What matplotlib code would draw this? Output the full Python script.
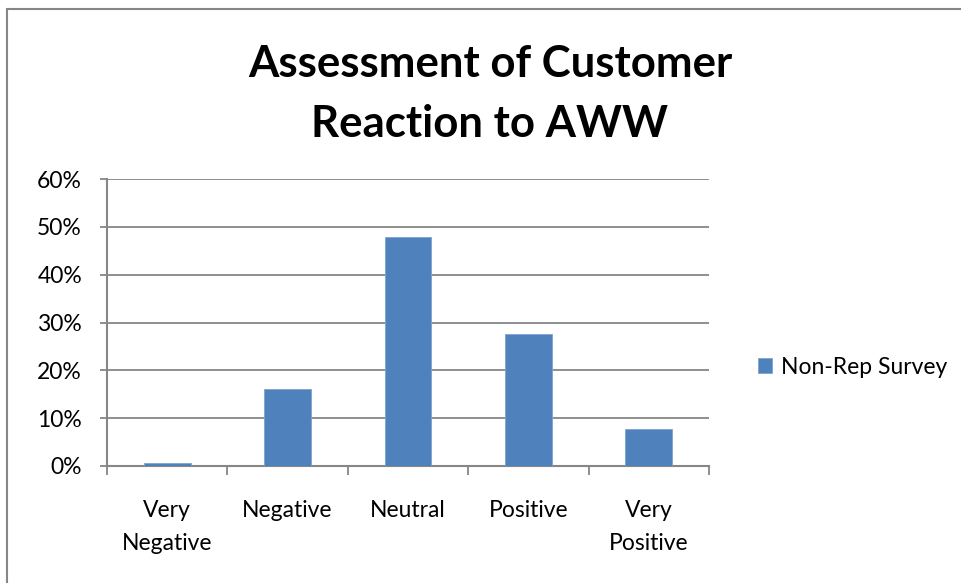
import matplotlib
matplotlib.use("Agg")
import matplotlib.pyplot as plt
from matplotlib.patches import Rectangle
from matplotlib.ticker import FixedLocator, NullFormatter

categories = ["Very\nNegative", "Negative", "Neutral", "Positive", "Very\nPositive"]
values = [0.6, 16.1, 47.8, 27.5, 7.7]
series_name = "Non-Rep Survey"
yticks = [0, 10, 20, 30, 40, 50, 60]
ytick_labels = ["0%", "10%", "20%", "30%", "40%", "50%", "60%"]
title = "Assessment of Customer\nReaction to AWW"

plt.rcParams['font.family'] = ['Lato', 'DejaVu Sans']
W, H = 962, 583
fig = plt.figure(figsize=(W/100, H/100), dpi=100)
fig.patch.set_facecolor("white")

# outer chart border
fig.patches.append(Rectangle((7/W, -0.1), 1.2, (H-9)/H + 0.1, transform=fig.transFigure,
                             fill=False, edgecolor="#868686", linewidth=1.5))

ax_l, ax_r, ax_t, ax_b = 107, 709, 179, 466
ax = fig.add_axes([ax_l/W, 1-ax_b/H, (ax_r-ax_l)/W, (ax_b-ax_t)/H])

grid_c = "#868686"
fs = 16.5
x = list(range(len(categories)))
ax.bar(x, values, width=0.39, color="#4F81BD", edgecolor="#7EA3D1", linewidth=0.6,
       label=series_name, zorder=3)
ax.set_xlim(-0.5, len(categories)-0.5)
ax.set_ylim(0, 60)
ax.set_yticks(yticks)
ax.set_yticklabels(ytick_labels)
ax.yaxis.grid(True, color=grid_c, linewidth=1.3, zorder=0)
ax.set_axisbelow(True)

ax.xaxis.set_major_locator(FixedLocator([i-0.5 for i in range(len(categories)+1)]))
ax.xaxis.set_major_formatter(NullFormatter())
ax.xaxis.set_minor_locator(FixedLocator(x))
ax.set_xticklabels(categories, minor=True)
ax.tick_params(axis='x', which='minor', length=0, pad=24.5, labelsize=fs, colors="black")
ax.tick_params(axis='x', which='major', length=6.5, width=1.3, color=grid_c)
ax.tick_params(axis='y', length=5, width=1.3, color=grid_c, labelsize=fs, pad=13)
for lbl in ax.get_xticklabels(minor=True):
    lbl.set_linespacing(1.72)

for s in ["top", "right"]:
    ax.spines[s].set_visible(False)
for s in ["left", "bottom"]:
    ax.spines[s].set_color(grid_c)
    ax.spines[s].set_linewidth(1.5)

fig.text(490/W, 1-94/H, title, ha="center", va="center", fontsize=31.5, fontweight="bold",
         linespacing=1.62)

leg = fig.legend(loc="center left", bbox_to_anchor=(749/W, 1-367/H), frameon=False,
                 fontsize=fs, handlelength=0.62, handleheight=0.62, handletextpad=0.38,
                 borderaxespad=0)

fig.savefig("out.png", dpi=100, facecolor="white")
